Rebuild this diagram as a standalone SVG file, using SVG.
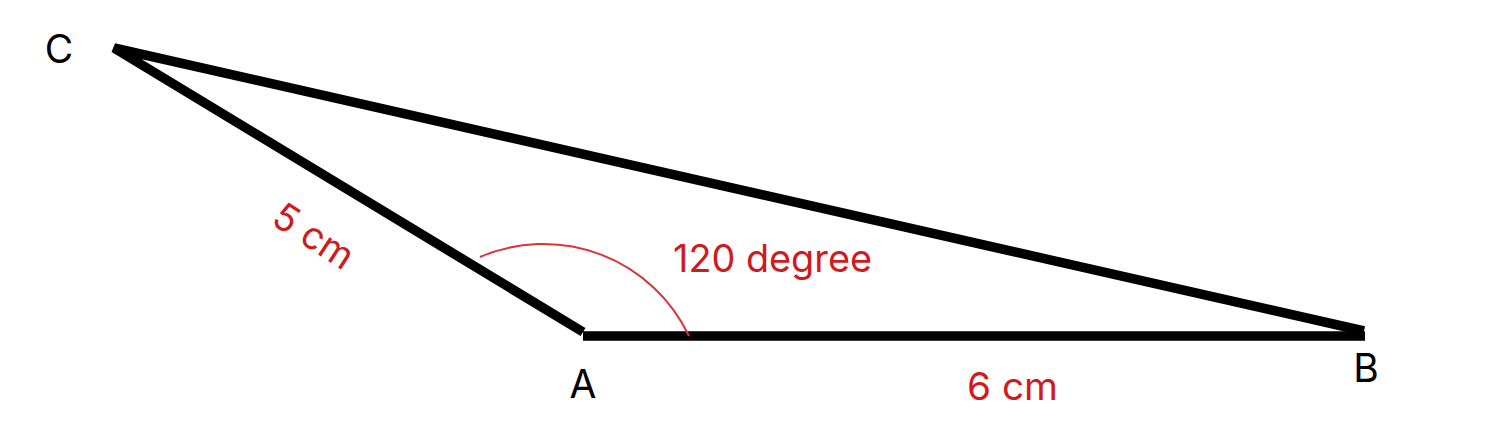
<svg xmlns="http://www.w3.org/2000/svg" width="1509" height="447" viewBox="0 0 1509 447">
<style>
.edge{fill:none;stroke:#000;stroke-width:9.5;stroke-linecap:butt}
.lbl{font-family:Inter,"Liberation Sans",sans-serif;font-size:39px;fill:#000}
.red{font-family:Inter,"Liberation Sans",sans-serif;font-size:38px;fill:#cf1a1e}
</style>
<rect width="1509" height="447" fill="#fff"/>
<g id="connectors">
<polyline class="edge" points="583,332 114,48 1364,331"/>
<line class="edge" x1="583" y1="336" x2="1365" y2="336"/>
<path id="angle-arc" d="M480,257 A161,161 0 0 1 689,336" fill="none" stroke="#d9343a" stroke-width="2"/>
</g>
<g id="node-C"><text class="lbl" x="59" y="63" text-anchor="middle">C</text></g>
<g id="node-A"><text class="lbl" x="583" y="398" text-anchor="middle">A</text></g>
<g id="node-B"><text class="lbl" x="1366" y="382" text-anchor="middle">B</text></g>
<g id="labels">
<text class="red" x="673" y="272" textLength="199" lengthAdjust="spacingAndGlyphs">120 degree</text>
<text class="red" x="967" y="400" textLength="91" lengthAdjust="spacingAndGlyphs">6 cm</text>
<text class="red" x="313" y="249" text-anchor="middle" textLength="88" lengthAdjust="spacingAndGlyphs" transform="rotate(33 313 237)">5 cm</text>
</g>
</svg>
